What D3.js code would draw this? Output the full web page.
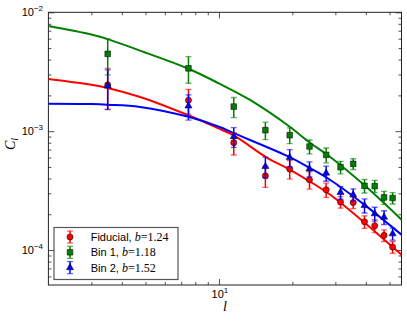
<!doctype html>
<html lang="en">
  <head>
    <meta charset="utf-8">
    <title>C_l vs l</title>
    <script src="https://d3js.org/d3.v7.min.js"></script>
    <style>
      body { margin: 0; background: #fff; }
      svg { display: block; }
      .tick-label { font-family: 'Liberation Sans', Arial, sans-serif; font-size: 11px; fill: #000; }
      .legend-text { font-family: 'Liberation Sans', Arial, sans-serif; font-size: 11px; fill: #000; }
      .math { font-family: 'Liberation Serif', 'DejaVu Serif', serif; }
    </style>
  </head>
  <body>
    <div id="root"></div>
  </body>
  <script>

    //binned data points:
    const ell = [3.5, 7.5, 11.5, 15.5, 19.5, 23.5, 27.5, 31.5, 35.5, 39.5, 43.5, 47.5, 51.5];
    const fidVals = [2.45e-3, 1.82e-3, 0.80e-3, 0.421e-3, 0.48e-3, 0.39e-3, 0.321e-3, 0.253e-3, 0.251e-3, 0.173e-3, 0.16e-3, 0.133e-3, 0.106e-3];
    const fidErr  = [0.92e-3, 0.43e-3, 0.17e-3, 0.085e-3, 0.085e-3, 0.065e-3, 0.044e-3, 0.028e-3, 0.028e-3, 0.021e-3, 0.02e-3, 0.015e-3, 0.012e-3];
    const bin1Vals = [4.47e-3, 3.38e-3, 1.61e-3, 1.02e-3, 0.925e-3, 0.743e-3, 0.632e-3, 0.498e-3, 0.531e-3, 0.347e-3, 0.345e-3, 0.277e-3, 0.274e-3];
    const bin1Err  = [1.5e-3, 0.85e-3, 0.31e-3, 0.17e-3, 0.14e-3, 0.1e-3, 0.09e-3, 0.06e-3, 0.055e-3, 0.045e-3, 0.04e-3, 0.035e-3, 0.03e-3];
    const bin2Vals = [2.4e-3, 1.63e-3, 0.90e-3, 0.504e-3, 0.60e-3, 0.482e-3, 0.444e-3, 0.305e-3, 0.292e-3, 0.237e-3, 0.202e-3, 0.189e-3, 0.137e-3];
    const bin2Err  = [0.88e-3, 0.39e-3, 0.17e-3, 0.1e-3, 0.1e-3, 0.07e-3, 0.065e-3, 0.037e-3, 0.035e-3, 0.032e-3, 0.027e-3, 0.025e-3, 0.016e-3];

    //model curves:
    const fidCurve = [[2, 2.75e-3], [3, 2.46e-3], [3.5, 2.31e-3], [4.75, 1.94e-3], [7.5, 1.36e-3], [10, 1.05e-3], [11.5, 0.92e-3], [15.7, 0.60e-3], [19.5, 0.475e-3], [23.6, 0.377e-3], [28.5, 0.293e-3], [39.5, 0.170e-3], [56, 0.0913e-3]];
    const bin1Curve = [[2, 7.67e-3], [3, 6.5e-3], [3.5, 5.95e-3], [4.75, 4.76e-3], [7.5, 3.35e-3], [10, 2.52e-3], [13.4, 1.83e-3], [19.5, 1.09e-3], [23.6, 0.80e-3], [28.5, 0.61e-3], [39.5, 0.35e-3], [56, 0.18e-3]];
    const bin2Curve = [[2, 1.70e-3], [3, 1.69e-3], [3.5, 1.67e-3], [4.75, 1.60e-3], [7.5, 1.32e-3], [10, 1.09e-3], [11.5, 0.962e-3], [19.5, 0.605e-3], [23.6, 0.489e-3], [28.5, 0.390e-3], [39.5, 0.240e-3], [56, 0.1345e-3]];

    //tick labels:
    const yMajor = [1e-4, 1e-3, 1e-2];
    const yLabels = ['\u22124', '\u22123', '\u22122'];
    const xMajor = [10];
    const xLabels = ['1'];

    const series = [
      { name: 'Fiducial, ', b: '1.24', vals: fidVals, err: fidErr, curve: fidCurve, color: '#ff0000', symbol: d3.symbolCircle, size: 30 },
      { name: 'Bin 1, ', b: '1.18', vals: bin1Vals, err: bin1Err, curve: bin1Curve, color: '#007f00', symbol: d3.symbolSquare, size: 32 },
      { name: 'Bin 2, ', b: '1.52', vals: bin2Vals, err: bin2Err, curve: bin2Curve, color: '#0000ff', symbol: d3.symbolTriangle, size: 22 }
    ];

    const width = 407;
    const height = 322;
    const pLeft = 48.4, pRight = 401.5, pTop = 12.3, pBottom = 285;

    const xScale = d3.scaleLog().domain([2, 56]).range([pLeft, pRight]);
    const yScale = d3.scaleLog().domain([5.08e-5, 1e-2]).range([pBottom, pTop]);

    const svg = d3.select('#root').append('svg')
      .attr('width', width)
      .attr('height', height);

    svg.append('defs').append('clipPath').attr('id', 'clip')
      .append('rect').attr('x', pLeft).attr('y', pTop)
      .attr('width', pRight - pLeft).attr('height', pBottom - pTop);

    //minor tick values
    const xMinor = [3, 4, 5, 6, 7, 8, 9, 20, 30, 40, 50];
    const yMinor = [];
    [1e-5, 1e-4, 1e-3].forEach(d => { for (let k = 2; k <= 9; k++) yMinor.push(d * k); });
    const yMinorIn = yMinor.filter(v => v >= 5.08e-5 && v <= 1e-2);

    const axes = svg.append('g');
    axes.append('g').attr('transform', `translate(0,${pBottom})`)
      .call(d3.axisBottom(xScale).tickValues(xMajor).tickSize(-6).tickFormat(''));
    axes.append('g').attr('transform', `translate(0,${pBottom})`)
      .call(d3.axisBottom(xScale).tickValues(xMinor).tickSize(-3).tickFormat(''));
    axes.append('g').attr('transform', `translate(0,${pTop})`)
      .call(d3.axisTop(xScale).tickValues(xMajor).tickSize(-6).tickFormat(''));
    axes.append('g').attr('transform', `translate(0,${pTop})`)
      .call(d3.axisTop(xScale).tickValues(xMinor).tickSize(-3).tickFormat(''));
    axes.append('g').attr('transform', `translate(${pLeft},0)`)
      .call(d3.axisLeft(yScale).tickValues(yMajor).tickSize(-6).tickFormat(''));
    axes.append('g').attr('transform', `translate(${pLeft},0)`)
      .call(d3.axisLeft(yScale).tickValues(yMinorIn).tickSize(-3).tickFormat(''));
    axes.append('g').attr('transform', `translate(${pRight},0)`)
      .call(d3.axisRight(yScale).tickValues(yMajor).tickSize(-6).tickFormat(''));
    axes.append('g').attr('transform', `translate(${pRight},0)`)
      .call(d3.axisRight(yScale).tickValues(yMinorIn).tickSize(-3).tickFormat(''));
    axes.selectAll('.domain').remove();
    axes.selectAll('line').attr('stroke', '#222').attr('stroke-width', 0.8);

    //frame
    svg.append('rect')
      .attr('x', pLeft).attr('y', pTop)
      .attr('width', pRight - pLeft).attr('height', pBottom - pTop)
      .attr('fill', 'none').attr('stroke', '#222').attr('stroke-width', 1);

    //tick labels
    yMajor.forEach((v, i) => {
      const t = svg.append('text').attr('class', 'tick-label')
        .attr('x', 43).attr('y', yScale(v) + 4).attr('text-anchor', 'end');
      t.append('tspan').text('10');
      t.append('tspan').attr('dy', -5).attr('font-size', 8).text(yLabels[i]);
    });
    xMajor.forEach((v, i) => {
      const t = svg.append('text').attr('class', 'tick-label')
        .attr('x', xScale(v) + 1).attr('y', 298).attr('text-anchor', 'middle');
      t.append('tspan').text('10');
      t.append('tspan').attr('dy', -5).attr('font-size', 8).text(xLabels[i]);
    });

    //axis labels
    svg.append('text').attr('class', 'math')
      .attr('x', 225).attr('y', 311).attr('text-anchor', 'middle')
      .attr('font-size', 14).attr('font-style', 'italic').text('l');
    const yl = svg.append('text').attr('class', 'math')
      .attr('transform', 'translate(15,144) rotate(-90)')
      .attr('text-anchor', 'middle').attr('font-size', 14).attr('font-style', 'italic');
    yl.append('tspan').text('C');
    yl.append('tspan').attr('dy', 3).attr('font-size', 10).text('l');

    //curves
    const line = d3.line()
      .x(d => xScale(d[0]))
      .y(d => yScale(d[1]))
      .curve(d3.curveCatmullRom.alpha(0.5));

    const plot = svg.append('g').attr('clip-path', 'url(#clip)');

    series.forEach(s => {
      plot.append('path')
        .datum(s.curve)
        .attr('d', line)
        .attr('fill', 'none')
        .attr('stroke', s.color)
        .attr('stroke-width', 2);
    });

    //error bars and markers
    function drawErrorbar(g, x, y0, y1, color) {
      g.append('line').attr('x1', x).attr('x2', x).attr('y1', y0).attr('y2', y1)
        .attr('stroke', color).attr('stroke-width', 1.5);
      [y0, y1].forEach(yy => {
        g.append('line').attr('x1', x - 3).attr('x2', x + 3).attr('y1', yy).attr('y2', yy)
          .attr('stroke', color).attr('stroke-width', 1.3).attr('stroke-opacity', 0.6);
      });
    }

    series.forEach(s => {
      const g = plot.append('g');
      ell.forEach((l, i) => {
        drawErrorbar(g, xScale(l), yScale(s.vals[i] - s.err[i]), yScale(s.vals[i] + s.err[i]), s.color);
      });
      g.selectAll('path.marker')
        .data(ell)
        .enter()
        .append('path')
        .attr('class', 'marker')
        .attr('transform', (l, i) => `translate(${xScale(l)},${yScale(s.vals[i])})`)
        .attr('d', d3.symbol().type(s.symbol).size(s.size))
        .attr('fill', s.color)
        .attr('stroke', '#000')
        .attr('stroke-width', 0.5);
    });

    //legend
    const legend = svg.append('g');
    legend.append('rect')
      .attr('x', 54).attr('y', 227.5).attr('width', 124).attr('height', 52)
      .attr('fill', '#fff').attr('stroke', '#555').attr('stroke-width', 1.2);

    series.forEach((s, i) => {
      const cy = 237 + i * 15.3;
      drawErrorbar(legend, 70, cy + 6, cy - 6, s.color);
      legend.append('path')
        .attr('transform', `translate(70,${cy})`)
        .attr('d', d3.symbol().type(s.symbol).size(s.size))
        .attr('fill', s.color)
        .attr('stroke', '#000')
        .attr('stroke-width', 0.5);
      const t = legend.append('text').attr('class', 'legend-text')
        .attr('x', 90.7).attr('y', cy + 4);
      t.append('tspan').text(s.name);
      t.append('tspan').attr('class', 'math').attr('font-style', 'italic').attr('font-size', 12).text('b');
      t.append('tspan').attr('class', 'math').attr('font-size', 12).text('=' + s.b);
    });

  </script>
</html>
